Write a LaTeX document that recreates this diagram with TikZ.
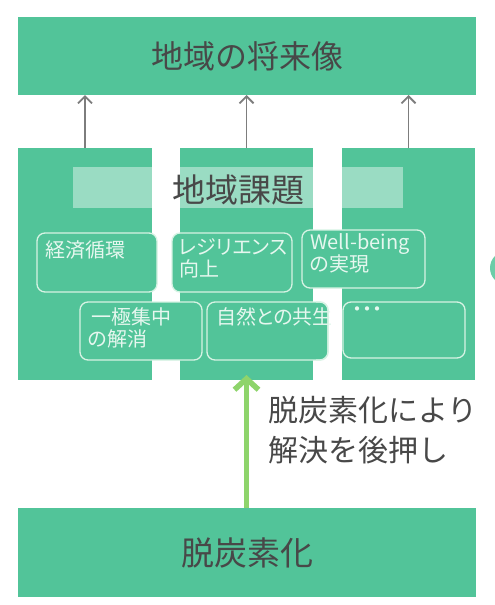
\documentclass[tikz,border=0pt]{standalone}
\usepackage{fontspec}
\setmainfont{Noto Sans CJK JP}
\newfontfamily\jpp[RawFeature={+palt}]{Noto Sans CJK JP}
\usetikzlibrary{arrows.meta}
\definecolor{mgreen}{RGB}{82,196,153}
\definecolor{lgreen}{RGB}{142,212,107}
\definecolor{dtext}{RGB}{72,72,72}
\definecolor{btext}{RGB}{230,247,239}
\definecolor{bline}{RGB}{215,243,228}
\definecolor{garrow}{RGB}{125,125,125}
\tikzset{
  panel/.style={fill=mgreen, draw=none, inner sep=0pt, outer sep=0pt},
  issue/.style={fill=mgreen, draw=bline, line width=1.3pt, rounded corners=8pt, inner sep=0pt, outer sep=0pt},
  issuetext/.style={text=btext, anchor=north west, align=left, inner sep=0pt, font=\jpp\fontsize{20}{22}\selectfont},
  uparrow/.style={draw=garrow, line width=1.8pt, -{Straight Barb[length=7pt,width=14pt]}},
  bigarrow/.style={draw=lgreen, line width=5.5pt, -{Straight Barb[length=11pt,width=24pt]}},
}
\begin{document}
\begin{tikzpicture}[x=1pt,y=-1pt]
\clip (0,0) rectangle (495,605);
\useasboundingbox (0,0) rectangle (495,605);
\fill[white] (0,0) rectangle (495,605);
% top box
\node[panel, minimum width=458pt, minimum height=78pt, text=dtext, font=\fontsize{32}{38}\selectfont] (top) at (247,56) {地域の将来像};
% columns
\node[panel, minimum width=134pt, minimum height=232pt] (c1) at (85,264) {};
\node[panel, minimum width=133pt, minimum height=232pt] (c2) at (246.5,264) {};
\node[panel, minimum width=133pt, minimum height=232pt] (c3) at (408.5,264) {};
% band
\fill[white, opacity=0.42] (73,167) rectangle (403,208);
\node[text=dtext, font=\fontsize{33}{38}\selectfont, inner sep=0pt] (title) at (238,190) {地域課題};
% gray arrows
\draw[uparrow] (c1.north) -- (top.south -| c1.north);
\draw[uparrow] (c2.north) -- (top.south -| c2.north);
\draw[uparrow] (c3.north) -- (top.south -| c3.north);
% issue boxes
\node[issue, minimum width=120pt, minimum height=59pt] (b1) at (97,262.5) {};
\node[issue, minimum width=120pt, minimum height=59pt] (b2) at (232,262.5) {};
\node[issue, minimum width=123pt, minimum height=58pt] (b3) at (363.5,259) {};
\node[issue, minimum width=122pt, minimum height=58pt] (b4) at (141,331) {};
\node[issue, minimum width=121pt, minimum height=58pt] (b5) at (267.5,331) {};
\node[issue, minimum width=122pt, minimum height=56pt] (b6) at (404,330) {};
\node[issuetext] (t1) at ([shift={(8,7)}]b1.north west) {経済循環};
\node[issuetext] (t2) at ([shift={(7,5)}]b2.north west) {レジリエンス\\向上};
\node[issuetext] (t3) at ([shift={(8,3)}]b3.north west) {Well-being\\の実現};
\node[issuetext] (t4) at ([shift={(8,5)}]b4.north west) {\,一極集中\\の解消};
\node[issuetext] (t5) at ([shift={(9,5)}]b5.north west) {自然との共生};
\node[issuetext] (t6) at ([shift={(9,5)}]b6.north west) {・・・};
% redraw right border of b5 over overflowing text
\draw[draw=bline, line width=1.3pt, rounded corners=8pt] ([xshift=-12pt]b5.north east) -- (b5.north east) -- (b5.south east) -- ([xshift=-12pt]b5.south east);
% right edge partial circle
\fill[mgreen!85!white] (507,268) circle (17);
% bottom box
\node[panel, minimum width=458pt, minimum height=89pt, text=dtext, font=\fontsize{33}{38}\selectfont] (base) at (247,552.5) {脱炭素化};
% green arrow
\draw[bigarrow] (base.north -| c2.south) -- ([yshift=5pt]c2.south);
\node[anchor=west, align=left, text=dtext, inner sep=0pt, font=\fontsize{30}{40}\selectfont] (lab) at (268,430) {脱炭素化により\\解決を後押し};
\end{tikzpicture}
\end{document}
